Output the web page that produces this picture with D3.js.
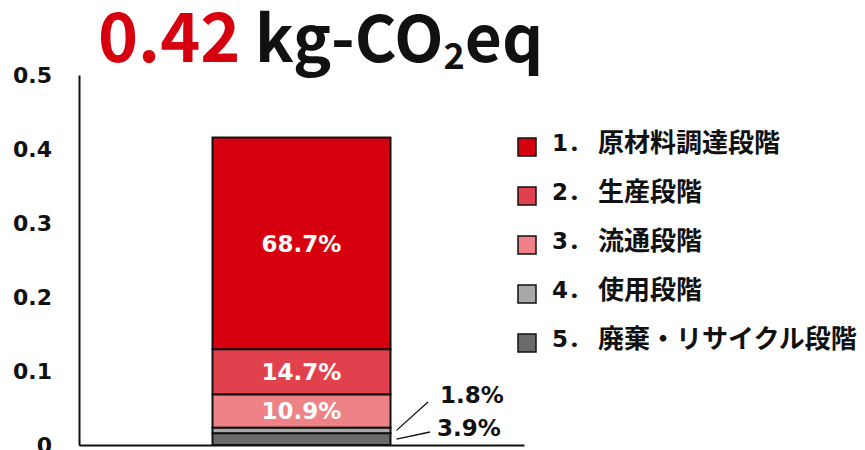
<!DOCTYPE html>
<html>
<head>
<meta charset="utf-8">
<script src="https://cdn.jsdelivr.net/npm/d3@7"></script>
<style>
  body { margin: 0; background: #fff; }
  svg text { font-family: "DejaVu Sans", "Noto Sans CJK JP", sans-serif; font-weight: bold; }
  svg text.jp { font-family: "Noto Sans CJK JP", sans-serif; }
</style>
</head>
<body>
<div id="chart"></div>
<script>
// data (kg-CO2eq per stage)
const categories = ["total"];
const stageKeys = ["s5", "s4", "s3", "s2", "s1"]; // bottom to top
const stageLabels = ["1", "2", "3", "4", "5"];
const stageNames = ["原材料調達段階", "生産段階", "流通段階", "使用段階", "廃棄・リサイクル段階"];
const stageValues = [0.286, 0.061, 0.045, 0.0075, 0.016]; // s1..s5
const stagePercents = ["68.7%", "14.7%", "10.9%", "1.8%", "3.9%"];
const stageColors = ["#d7000f", "#e1414c", "#ee8287", "#a9a9a9", "#6b6b6b"];
const yTicks = [0, 0.1, 0.2, 0.3, 0.4, 0.5];
const totalLabel = "0.42";

const W = 865, H = 450;
const margin = { top: 75, right: 341, bottom: 5, left: 79 };

const svg = d3.select("#chart").append("svg")
  .attr("width", W)
  .attr("height", H);

const x = d3.scaleBand()
  .domain(categories)
  .range([margin.left, W - margin.right])
  .paddingInner(0)
  .paddingOuter(0.75);

const y = d3.scaleLinear()
  .domain([0, 0.5])
  .range([H - margin.bottom, margin.top]);

// stacked single bar
const row = { total: "total" };
stageKeys.forEach((k, i) => { row[k] = stageValues[4 - i]; });
const stacked = d3.stack().keys(stageKeys)([row]);
const idx = key => 4 - stageKeys.indexOf(key);

svg.append("g")
  .selectAll("rect")
  .data(stacked)
  .join("rect")
  .attr("x", x("total"))
  .attr("width", x.bandwidth())
  .attr("y", d => y(d[0][1]))
  .attr("height", d => y(d[0][0]) - y(d[0][1]))
  .attr("fill", d => stageColors[idx(d.key)])
  .attr("stroke", "#111")
  .attr("stroke-width", 2);

// labels inside the large segments
const inside = stacked.filter(d => ["s1", "s2", "s3"].includes(d.key));
svg.append("g")
  .selectAll("text")
  .data(inside)
  .join("text")
  .attr("x", x("total") + x.bandwidth() / 2)
  .attr("y", d => y((d[0][0] + d[0][1]) / 2))
  .attr("dy", "0.36em")
  .attr("text-anchor", "middle")
  .attr("fill", "#fff")
  .style("font-size", "23px")
  .text(d => stagePercents[idx(d.key)]);

// small segments: labels outside with leader lines
const barRight = x("total") + x.bandwidth();
const outside = [
  { key: "s4", ty: 395, tx: 440, lineEnd: [428, 402] },
  { key: "s5", ty: 428, tx: 437, lineEnd: [430, 432] }
];
outside.forEach(o => {
  const s = stacked.find(d => d.key === o.key)[0];
  const yMid = y((s[0] + s[1]) / 2);
  svg.append("line")
    .attr("x1", barRight + 6)
    .attr("y1", yMid)
    .attr("x2", o.lineEnd[0])
    .attr("y2", o.lineEnd[1])
    .attr("stroke", "#111")
    .attr("stroke-width", 1.3);
  svg.append("text")
    .attr("x", o.tx)
    .attr("y", o.ty)
    .attr("dy", "0.36em")
    .attr("fill", "#111")
    .style("font-size", "23px")
    .text(stagePercents[idx(o.key)]);
});

// axes
const yAxis = svg.append("g")
  .attr("transform", `translate(${margin.left},0)`)
  .call(d3.axisLeft(y).tickValues(yTicks).tickSize(0).tickPadding(27)
    .tickFormat(d => d === 0 ? "0" : d3.format(".1f")(d)));
yAxis.select(".domain").attr("stroke", "#111").attr("stroke-width", 2);
yAxis.selectAll("text")
  .attr("fill", "#111")
  .style("font-size", "22px")
  .style("font-family", "'DejaVu Sans', sans-serif")
  .style("font-weight", "bold");

const xAxis = svg.append("g")
  .attr("transform", `translate(0,${y(0)})`)
  .call(d3.axisBottom(x).tickSize(0).tickFormat(""));
xAxis.select(".domain").attr("stroke", "#111").attr("stroke-width", 2);

// title
const title = svg.append("text")
  .attr("class", "jp")
  .attr("x", 98)
  .attr("y", 62)
  .style("font-size", "68px");
title.append("tspan").attr("fill", "#d7000f").text(totalLabel);
title.append("tspan").attr("fill", "#111").style("font-size", "64px").text(" kg-CO");
title.append("tspan").attr("fill", "#111").attr("dy", 7).style("font-size", "36px").text("2");
title.append("tspan").attr("fill", "#111").attr("dy", -7).style("font-size", "64px").text("eq");

// legend
const legend = svg.append("g")
  .selectAll("g")
  .data(stageNames)
  .join("g")
  .attr("transform", (d, i) => `translate(518,${143 + i * 49})`);
legend.append("rect")
  .attr("x", 0)
  .attr("y", -5)
  .attr("width", 18)
  .attr("height", 18)
  .attr("fill", (d, i) => stageColors[i])
  .attr("stroke", "#111")
  .attr("stroke-width", 1.5);
legend.append("text")
  .attr("x", 34)
  .attr("dy", "0.36em")
  .attr("fill", "#111")
  .style("font-size", "23px")
  .text((d, i) => stageLabels[i] + "．");
legend.append("text")
  .attr("class", "jp")
  .attr("x", 80)
  .attr("dy", "0.36em")
  .attr("fill", "#111")
  .style("font-size", "26px")
  .text(d => d);
</script>
</body>
</html>
